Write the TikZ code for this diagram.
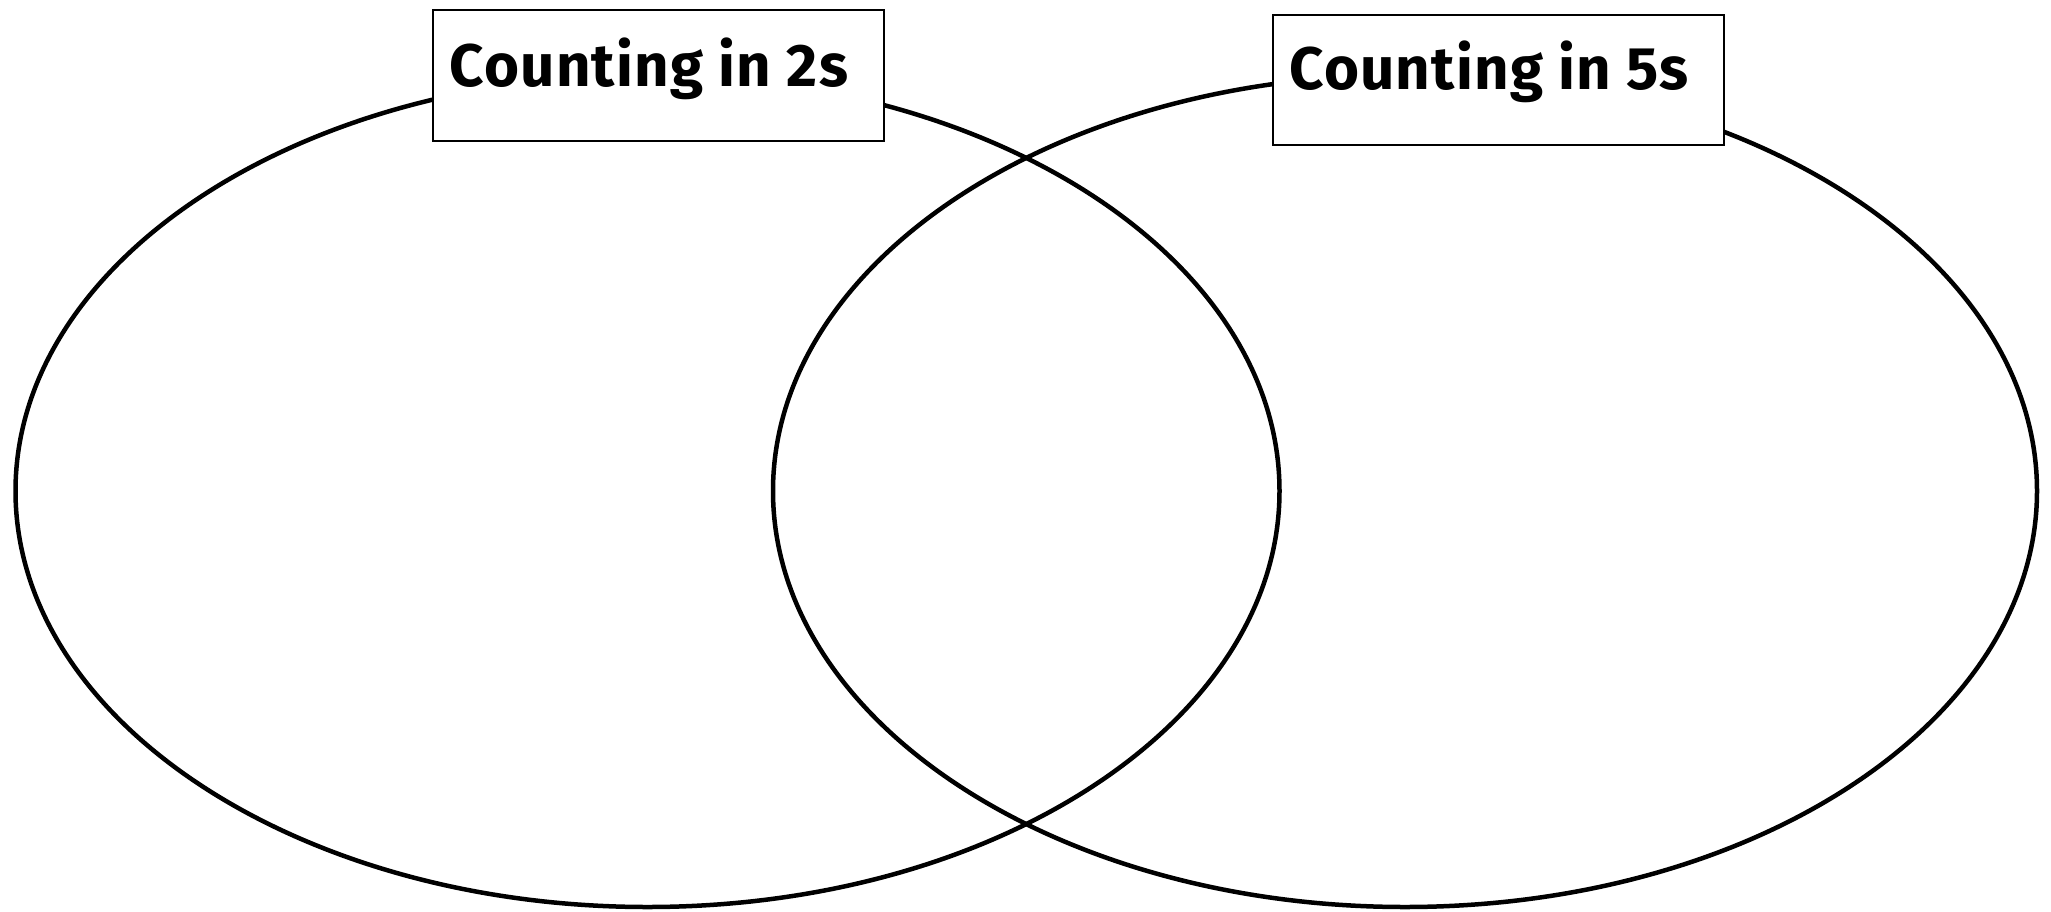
\documentclass[tikz,border=0pt]{standalone}
\usepackage{fontspec}
\setmainfont{Fira Sans}[LetterSpace=2]
\begin{document}
\begin{tikzpicture}[x=1pt,y=-1pt,
  ring/.style={line width=4.5pt,draw=black},
  titlebox/.style={draw=black,line width=2pt,fill=white,inner sep=0pt,anchor=north west},
  titletext/.style={anchor=base,inner sep=0pt,font=\fontsize{60}{62}\selectfont\bfseries}]
\useasboundingbox[fill=white] (0,0) rectangle (2051,911);
\coordinate (cL) at (647.5,491);
\coordinate (cR) at (1405,491);
\draw[ring] (cL) ellipse [x radius=632, y radius=416];
\draw[ring] (cR) ellipse [x radius=632, y radius=416];
\node[titlebox,minimum width=451pt,minimum height=131pt] (boxL) at (431.5,9) {};
\node[titlebox,minimum width=451pt,minimum height=130pt] (boxR) at (1271.5,13.5) {};
\node[titletext] (txtL) at (649,86) {Counting in 2s};
\node[titletext] (txtR) at (1489,89) {Counting in 5s};
\end{tikzpicture}
\end{document}
